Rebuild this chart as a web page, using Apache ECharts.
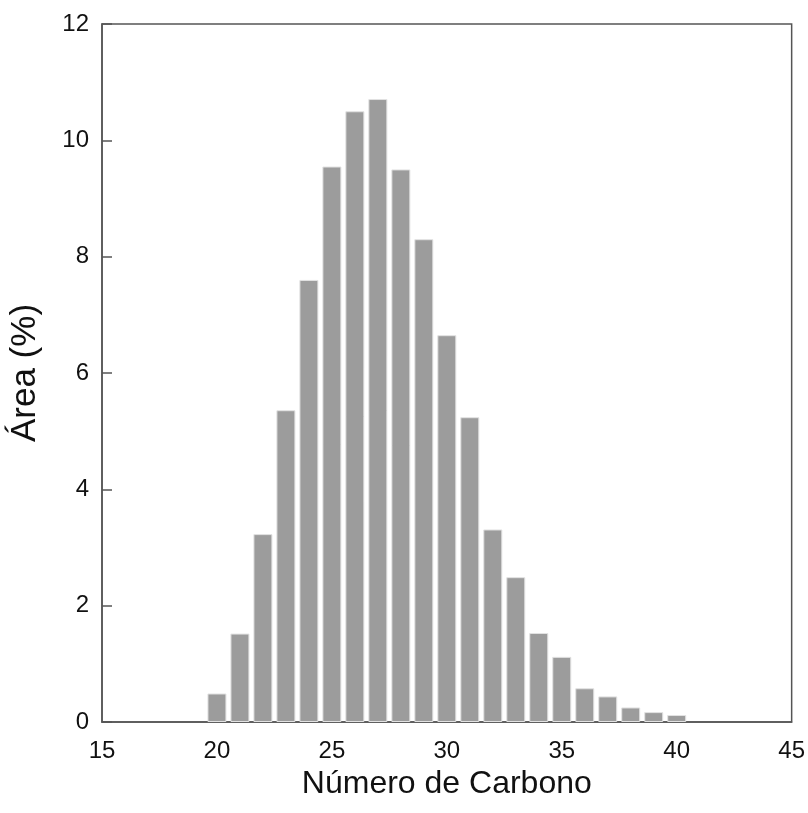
<!DOCTYPE html>
<html>
<head>
<meta charset="utf-8">
<script src="https://cdn.jsdelivr.net/npm/echarts@6/dist/echarts.min.js"></script>
<style>
  html, body { margin: 0; padding: 0; background: #fff; }
  #chart { width: 808px; height: 813px; }
</style>
</head>
<body>
<div id="chart"></div>
<script>
// Carbon number distribution (area %)
const carbonNumbers = [20, 21, 22, 23, 24, 25, 26, 27, 28, 29, 30, 31, 32, 33, 34, 35, 36, 37, 38, 39, 40];
const areaPercent = [0.49, 1.52, 3.23, 5.36, 7.60, 9.55, 10.50, 10.71, 9.50, 8.30, 6.65, 5.24, 3.31, 2.49, 1.53, 1.12, 0.58, 0.44, 0.25, 0.17, 0.12];
const xTicks = [15, 20, 25, 30, 35, 40, 45];
const yTicks = [0, 2, 4, 6, 8, 10, 12];

const axisColor = '#555555';
const font = '"Liberation Sans", Arial, Helvetica, sans-serif';

const chart = echarts.init(document.getElementById('chart'), null, { renderer: 'canvas' });

chart.setOption({
  backgroundColor: '#ffffff',
  animation: false,
  grid: {
    left: 94, right: 16, top: 24, bottom: 91,
    show: true, borderColor: axisColor, borderWidth: 1.5,
    backgroundColor: 'transparent'
  },
  xAxis: {
    type: 'value',
    min: xTicks[0], max: xTicks[xTicks.length - 1], interval: 5,
    name: 'Número de Carbono',
    nameLocation: 'middle', nameGap: 40,
    nameTextStyle: { fontFamily: font, fontSize: 32, color: '#111' },
    axisLine: { show: true, lineStyle: { color: axisColor, width: 1.5 } },
    axisTick: { show: false },
    splitLine: { show: false },
    axisLabel: { fontFamily: font, fontSize: 24, color: '#111', margin: 17 }
  },
  yAxis: {
    type: 'value',
    min: yTicks[0], max: yTicks[yTicks.length - 1], interval: 2,
    name: 'Área (%)',
    nameLocation: 'middle', nameGap: 59,
    nameTextStyle: { fontFamily: font, fontSize: 35, color: '#111' },
    axisLine: { show: true, lineStyle: { color: axisColor, width: 1.5 } },
    axisTick: { show: true, inside: true, length: 10, lineStyle: { color: axisColor, width: 1.5 } },
    splitLine: { show: false },
    axisLabel: { fontFamily: font, fontSize: 24, color: '#111', margin: 13 }
  },
  series: [{
    type: 'bar',
    data: carbonNumbers.map((c, i) => [c, areaPercent[i]]),
    barWidth: 19,
    itemStyle: { color: '#9c9c9c', borderColor: '#e2e2e2', borderWidth: 1 }
  }]
});
</script>
</body>
</html>
